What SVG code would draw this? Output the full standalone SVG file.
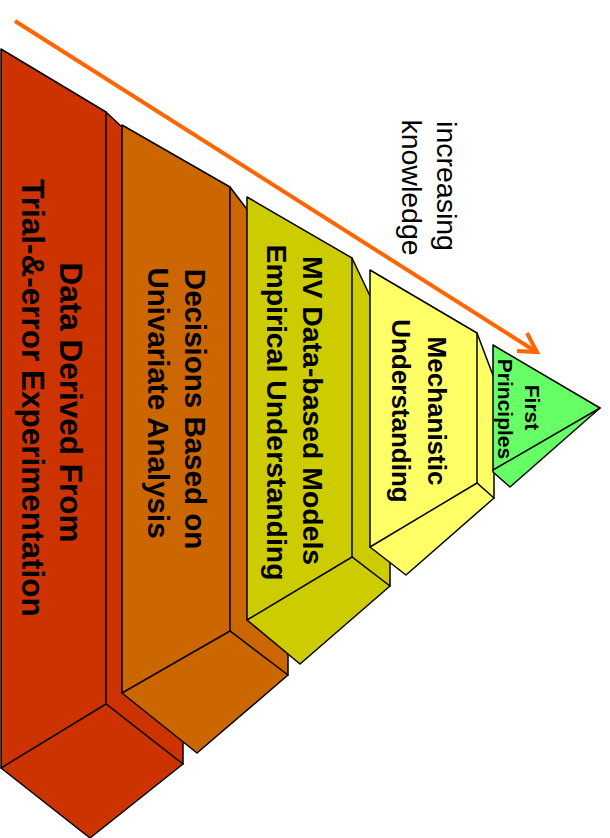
<svg xmlns="http://www.w3.org/2000/svg" width="610" height="838" viewBox="0 0 610 838">
<style>
.blk{stroke:#000;stroke-width:1.5;stroke-linejoin:round}
.ln{fill:none;stroke:#000;stroke-width:1.5;stroke-linecap:round}
.lbl{font-family:"Liberation Sans",Arial,sans-serif;font-weight:bold;fill:#000;text-anchor:middle}
.note{font-family:"Liberation Sans",Arial,sans-serif;font-size:28.5px;fill:#000;text-anchor:middle}
.arrow{fill:none;stroke:#FF6600;stroke-width:4}
</style>
<rect width="610" height="838" fill="#fff"/>
<g id="level1">
<polygon class="blk" fill="#CC3300" points="1,49 106,112 124,129 124,690 183,737 183,764 90,838 1,768"/>
<polyline class="ln" points="106,112 106,704"/>
<polyline class="ln" points="1,768 106,704 183,764"/>
<text class="lbl" font-size="31.5" transform="translate(60,402.5) rotate(90)">Data Derived From</text>
<text class="lbl" font-size="31.5" transform="translate(22,398) rotate(90)">Trial-&amp;-error Experimentation</text>
</g>
<g id="level2">
<polygon class="blk" fill="#CC6600" points="122,125 230,187 249,212 249,618 288,650 288,675 197,753 122,693"/>
<polyline class="ln" points="230,187 230,631"/>
<polyline class="ln" points="122,693 230,631 288,675"/>
<text class="lbl" font-size="29.5" transform="translate(185,409) rotate(90)">Decisions Based on</text>
<text class="lbl" font-size="29.5" transform="translate(148,403) rotate(90)">Univariate Analysis</text>
</g>
<g id="level3">
<polygon class="blk" fill="#CCCC00" points="247,197 352,258 371,298 371,545 390,560 390,586 300,664 247,620"/>
<polyline class="ln" points="352,258 352,557"/>
<polyline class="ln" points="247,620 352,557 390,586"/>
<text class="lbl" font-size="28.4" transform="translate(303,410.5) rotate(90)">MV Data-based Models</text>
<text class="lbl" font-size="28.4" transform="translate(267,412.5) rotate(90)">Empirical Understanding</text>
</g>
<g id="level4">
<polygon class="blk" fill="#FFFF66" points="370,270 477,333 494,378 494,498 406,575 370,547"/>
<polyline class="ln" points="477,333 477,483"/>
<polyline class="ln" points="370,547 477,483 494,498"/>
<text class="lbl" font-size="26" transform="translate(428,411) rotate(90)">Mechanistic</text>
<text class="lbl" font-size="26" transform="translate(392,411) rotate(90)">Understanding</text>
</g>
<g id="level5">
<polygon class="blk" fill="#66FF66" points="493,345 600,408 510,487 493,472"/>
<polyline class="ln" points="493,470 600,408"/>
<text class="lbl" font-size="21" transform="translate(525,407.5) rotate(90)">First</text>
<text class="lbl" font-size="21" transform="translate(498,409) rotate(90)">Principles</text>
</g>
<g id="connectors">
<line class="arrow" x1="15" y1="21" x2="535" y2="351"/>
<polyline class="arrow" points="527,333 537,352 517,351"/>
<text class="note" transform="translate(437,186) rotate(90)">increasing</text>
<text class="note" transform="translate(402,187.5) rotate(90)">knowledge</text>
</g>
</svg>
